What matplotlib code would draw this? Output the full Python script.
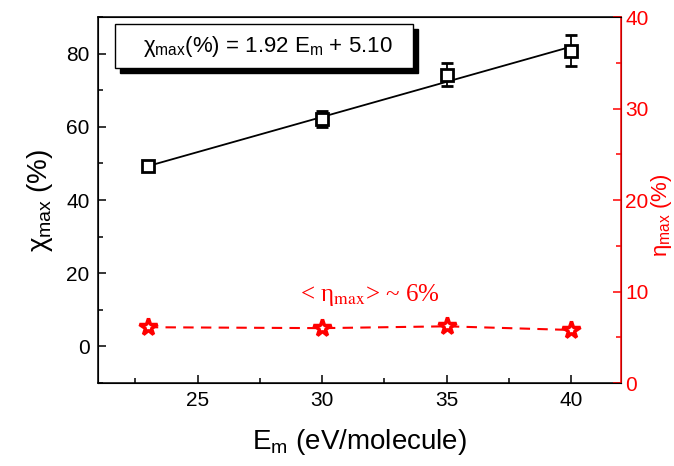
import numpy as np
import matplotlib
matplotlib.use("Agg")
import matplotlib.pyplot as plt
from matplotlib.ticker import MultipleLocator
from matplotlib.patches import Rectangle

plt.rcParams["font.family"] = ["Liberation Sans", "DejaVu Sans"]
plt.rcParams["mathtext.fontset"] = "custom"
plt.rcParams["mathtext.rm"] = "Liberation Sans"
plt.rcParams["mathtext.it"] = "Liberation Sans"

# data
em = [23, 30, 35, 40]
chi_max = [49.3, 62.1, 74.2, 80.8]
chi_err = [1.0, 2.2, 3.1, 4.2]
eta_max = [6.1, 6.0, 6.2, 5.8]
fit_slope = 1.92
fit_icpt = 5.10

fig = plt.figure(figsize=(6.74, 4.66), dpi=100)
ax = fig.add_axes([0.1454, 0.178, 0.776, 0.7855])
ax2 = ax.twinx()

# linear fit over the data range
xf = np.array([em[0], em[-1]])
ax.plot(xf, fit_slope * xf + fit_icpt, color="black", lw=1.3, zorder=2)
ax.errorbar(em, chi_max, yerr=chi_err, fmt="s", ms=8, mfc="white", mec="black",
            mew=2, ecolor="black", elinewidth=1.3, capsize=4, capthick=1.3, zorder=3)

ax2.plot(em, eta_max, ls=(0, (5, 3.5)), color="red", lw=1.5, marker="*", ms=13,
         mfc="white", mec="red", mew=2.5)

ax.set_xlim(21, 42)
ax.set_ylim(-10, 90)
ax2.set_ylim(0, 40)

ax.xaxis.set_major_locator(MultipleLocator(5))
ax.xaxis.set_minor_locator(MultipleLocator(2.5))
ax.yaxis.set_major_locator(MultipleLocator(20))
ax.yaxis.set_minor_locator(MultipleLocator(10))
ax2.yaxis.set_major_locator(MultipleLocator(10))
ax2.yaxis.set_minor_locator(MultipleLocator(5))

ax.tick_params(which="both", direction="in", top=False, labelsize=15)
ax.tick_params(which="major", length=6, width=1.1, pad=6)
ax.tick_params(which="minor", length=3.5, width=1.1)
ax2.tick_params(which="both", direction="in", colors="red", labelsize=15)
ax2.tick_params(which="major", length=6, width=1.1, pad=3)
ax2.tick_params(which="minor", length=3.5, width=1.1)
ax2.spines["right"].set_color("red")
for s in ["left", "top", "bottom"]:
    ax.spines[s].set_linewidth(1.1)
ax2.spines["right"].set_linewidth(1.1)

ax.set_xlabel(r"E$_\mathrm{m}$ (eV/molecule)", fontsize=20, labelpad=12)
ax.set_ylabel(r"$\chi_\mathrm{max}$ (%)", fontsize=20, labelpad=8)
ax2.set_ylabel(r"$\eta_\mathrm{max}$ (%)", fontsize=16, color="red")
ax2.yaxis.set_label_coords(1.054, 0.46)

# equation box with drop shadow
bx, by, bw, bh = 115 / 674, 1 - 68 / 466, 298 / 674, 44 / 466
fig.patches.append(Rectangle((bx + 5 / 674, by - 5 / 466), bw, bh, transform=fig.transFigure,
                             facecolor="black", edgecolor="black", zorder=5))
fig.patches.append(Rectangle((bx, by), bw, bh, transform=fig.transFigure,
                             facecolor="white", edgecolor="black", lw=1, zorder=6))
fig.text(bx + bw / 2 + 0.005, by + bh / 2, r"$\chi_\mathrm{max}$(%) = 1.92 E$_\mathrm{m}$ + 5.10",
         fontsize=16, ha="center", va="center", zorder=7)

ax2.text(31.9, 9.6, r"< η$_\mathrm{max}$> ~ 6%", color="red", fontsize=18,
         ha="center", va="center", family="Liberation Serif",
         math_fontfamily="stix")

fig.savefig("out.png", dpi=100)
